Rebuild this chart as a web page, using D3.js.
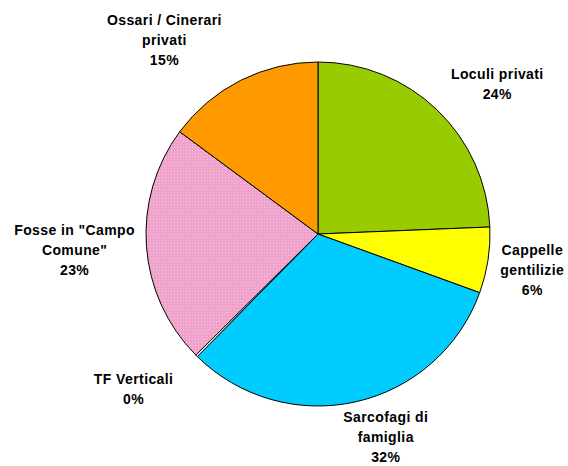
<!DOCTYPE html>
<html>
<head>
<meta charset="utf-8">
<script src="https://cdn.jsdelivr.net/npm/d3@7"></script>
<style>
  body { margin: 0; background: #fff; }
  text { font-family: "Liberation Sans", Arial, sans-serif; font-weight: bold; font-size: 14px; letter-spacing: 0.4px; fill: #000; }
</style>
</head>
<body>
<div id="chart"></div>
<script>
"use strict";

// slices, clockwise from 12 o'clock
let categories = [
  ['Loculi privati'],
  ['Cappelle', 'gentilizie'],
  ['Sarcofagi di', 'famiglia'],
  ['TF Verticali'],
  ['Fosse in "Campo', 'Comune"'],
  ['Ossari / Cinerari', 'privati']
];
let values = [24.4, 6.2, 31.9, 0.2, 22.6, 14.9];
let percentLabels = ['24%', '6%', '32%', '0%', '23%', '15%'];
let colors = ['#99cc00', '#ffff00', '#00ccff', '#ffffff', 'url(#dots)', '#ff9900'];

// label nudges from the label arc (layout only)
let labelNudge = [[20, 16], [-13, 1], [17, -21], [-22, -8], [-14, -1], [-50, 11]];

let width = 568;
let height = 466;
let cx = 318;
let cy = 234;
let radius = 172;
let lineH = 20;

let svg = d3.select('#chart')
  .append('svg')
  .attr('width', width)
  .attr('height', height);

let defs = svg.append('defs');
let pat = defs.append('pattern')
  .attr('id', 'dots')
  .attr('width', 3)
  .attr('height', 3)
  .attr('patternUnits', 'userSpaceOnUse');
pat.append('rect').attr('width', 3).attr('height', 3).attr('fill', '#eea2cc');
pat.append('rect').attr('width', 1).attr('height', 1).attr('fill', '#f6c6df');

let pie = d3.pie()
  .sort(null)
  .value(d => d);

let arc = d3.arc()
  .innerRadius(0)
  .outerRadius(radius);

let labelArc = d3.arc()
  .innerRadius(230)
  .outerRadius(230);

let arcs = pie(values);

let g = svg.append('g')
  .attr('transform', 'translate(' + cx + ', ' + cy + ')');

g.selectAll('path')
  .data(arcs)
  .enter()
  .append('path')
  .attr('d', arc)
  .attr('fill', (d, i) => colors[i])
  .attr('stroke', '#000')
  .attr('stroke-width', 1)
  .attr('stroke-linejoin', 'round');

let labels = g.selectAll('g.lbl')
  .data(arcs)
  .enter()
  .append('g')
  .attr('class', 'lbl')
  .attr('transform', (d, i) => {
    let c = labelArc.centroid(d);
    return 'translate(' + (c[0] + labelNudge[i][0]) + ', ' + (c[1] + labelNudge[i][1]) + ')';
  });

labels.each(function (d, i) {
  let lines = categories[i].concat([percentLabels[i]]);
  let top = -(lines.length - 1) * lineH / 2;
  d3.select(this).selectAll('text')
    .data(lines)
    .enter()
    .append('text')
    .attr('text-anchor', 'middle')
    .attr('x', 0)
    .attr('y', (t, j) => top + j * lineH + 5)
    .text(t => t);
});
</script>
</body>
</html>
